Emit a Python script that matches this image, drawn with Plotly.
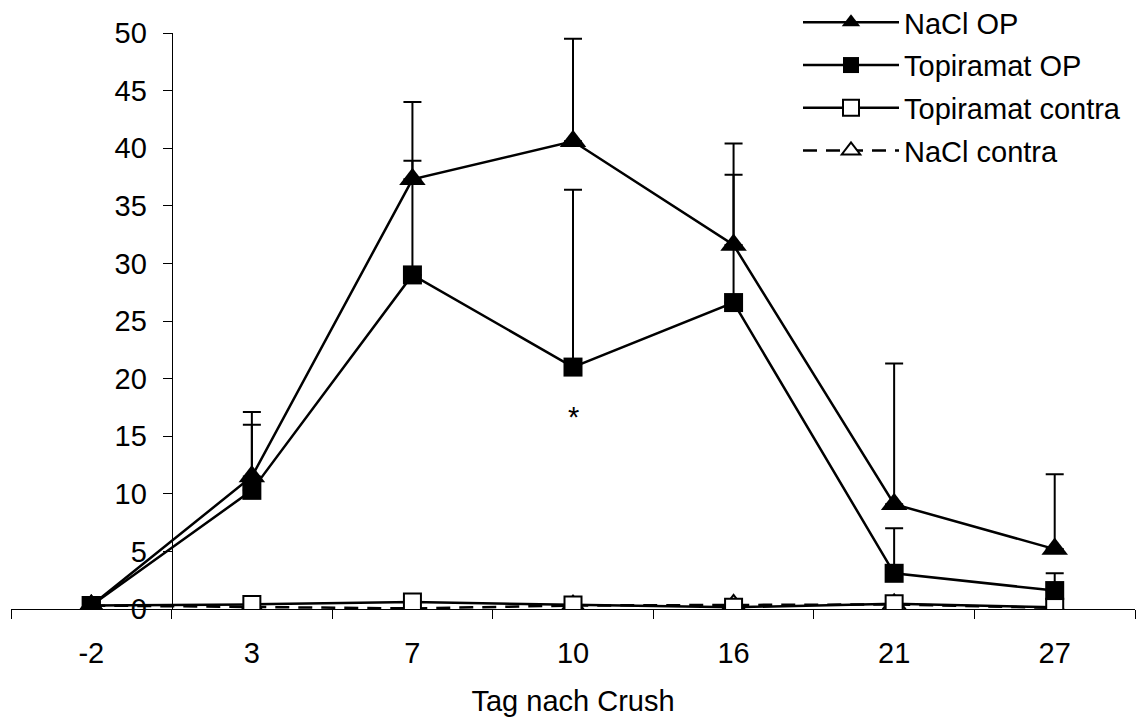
import plotly.graph_objects as go

categories = ["-2", "3", "7", "10", "16", "21", "27"]
nacl_op = [0.3, 11.5, 37.3, 40.6, 31.6, 9.1, 5.2]
nacl_op_err = [0.0, 5.6, 6.7, 8.9, 8.8, 12.2, 6.5]
topi_op = [0.3, 10.3, 29.0, 21.0, 26.6, 3.1, 1.6]
topi_op_err = [0.0, 5.7, 9.9, 15.4, 11.1, 3.9, 1.5]
topi_contra = [0.3, 0.4, 0.6, 0.35, 0.15, 0.45, 0.15]
nacl_contra = [0.3, 0.2, 0.05, 0.3, 0.35, 0.4, 0.1]
y_ticks = [0, 5, 10, 15, 20, 25, 30, 35, 40, 45, 50]

xi = list(range(len(categories)))
FONT = "Liberation Sans, Arial, sans-serif"
FS = 29
LW = 2.5

fig = go.Figure()

fig.add_trace(go.Scatter(
    x=xi, y=nacl_contra, name="NaCl contra", mode="lines+markers",
    line=dict(color="black", width=LW, dash="14px,9px"),
    marker=dict(symbol="triangle-up", size=20, color="white",
                line=dict(color="black", width=2)),
    legendgroup="d", legendrank=4,
))
fig.add_trace(go.Scatter(
    x=xi, y=topi_contra, name="Topiramat contra", mode="lines+markers",
    line=dict(color="black", width=LW),
    marker=dict(symbol="square", size=17, color="white",
                line=dict(color="black", width=2)),
    legendgroup="c", legendrank=3,
))
fig.add_trace(go.Scatter(
    x=xi, y=nacl_op, name="NaCl OP", mode="lines+markers",
    line=dict(color="black", width=LW),
    marker=dict(symbol="triangle-up", size=23, color="black"),
    error_y=dict(type="data", array=nacl_op_err, arrayminus=[0] * 7,
                 symmetric=False, color="black", thickness=2, width=9),
    legendgroup="a", legendrank=1,
))
fig.add_trace(go.Scatter(
    x=xi, y=topi_op, name="Topiramat OP", mode="lines+markers",
    line=dict(color="black", width=LW),
    marker=dict(symbol="square", size=19, color="black"),
    error_y=dict(type="data", array=topi_op_err, arrayminus=[0] * 7,
                 symmetric=False, color="black", thickness=2, width=9),
    legendgroup="b", legendrank=2,
))

fig.add_annotation(x=3, y=16.7, text="*", showarrow=False,
                   font=dict(family=FONT, size=FS, color="black"),
                   xref="x", yref="y", yanchor="middle")

fig.update_layout(
    width=1137, height=722,
    margin=dict(l=11, r=2, t=33, b=113, autoexpand=False),
    paper_bgcolor="white", plot_bgcolor="white",
    font=dict(family=FONT, size=FS, color="black"),
    showlegend=True,
    legend=dict(
        xref="paper", yref="paper", x=(798 - 11) / 1124, y=(609 + 3) / 576,
        xanchor="left", yanchor="top", bgcolor="rgba(0,0,0,0)",
        itemwidth=96, tracegroupgap=2, traceorder="grouped",
        font=dict(family=FONT, size=FS, color="black"),
    ),
    xaxis=dict(
        range=[-0.5, 6.5], tickmode="array", tickvals=xi, ticktext=categories,
        ticks="", showline=True, linecolor="black", linewidth=1,
        showgrid=False, zeroline=False, ticklabelstandoff=18,
        minor=dict(tickmode="linear", tick0=-0.5, dtick=1, ticks="outside",
                   ticklen=9, tickcolor="black", tickwidth=1, showgrid=False),
        title=dict(text="Tag nach Crush", standoff=22,
                   font=dict(family=FONT, size=FS, color="black")),
    ),
    yaxis=dict(
        range=[0, 50], tickmode="array", tickvals=y_ticks,
        anchor="free", position=1 / 7,
        ticks="outside", ticklen=9, tickcolor="black", tickwidth=1,
        showline=True, linecolor="black", linewidth=1,
        showgrid=False, zeroline=False, ticklabelstandoff=10,
    ),
)

fig.write_html("out.html")
